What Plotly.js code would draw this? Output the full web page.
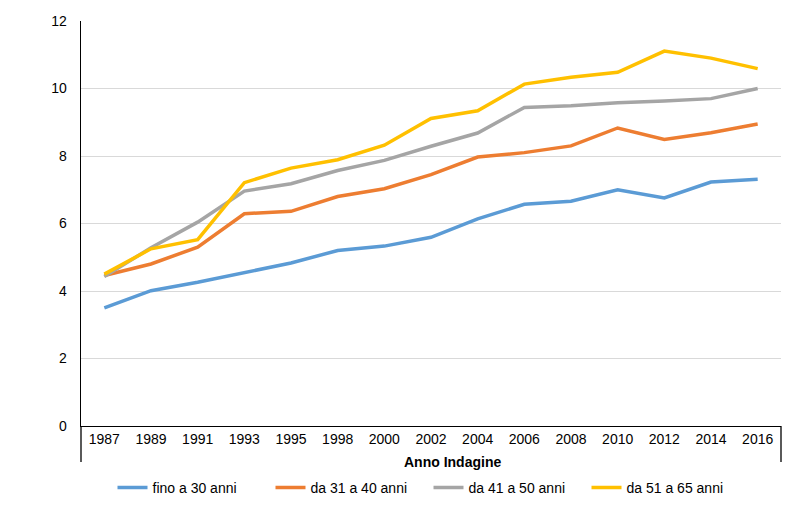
<!DOCTYPE html>
<html>
<head>
<meta charset="utf-8">
<script src="https://cdn.plot.ly/plotly-3.0.1.min.js"></script>
<style>html,body{margin:0;padding:0;background:#fff;}#chart{width:804px;height:505px;}</style>
</head>
<body>
<div id="chart"></div>
<script>
const years = ["1987","1989","1991","1993","1995","1998","2000","2002","2004","2006","2008","2010","2012","2014","2016"];
const fino30 = [3.50,4.01,4.26,4.55,4.83,5.20,5.33,5.59,6.14,6.57,6.66,7.00,6.76,7.23,7.31];
const da31a40 = [4.46,4.80,5.30,6.29,6.36,6.80,7.03,7.45,7.97,8.10,8.30,8.83,8.49,8.69,8.95];
const da41a50 = [4.43,5.28,6.04,6.96,7.18,7.57,7.87,8.29,8.68,9.44,9.49,9.58,9.63,9.70,10.00];
const da51a65 = [4.50,5.25,5.52,7.21,7.64,7.89,8.32,9.11,9.34,10.13,10.33,10.48,11.11,10.90,10.59];
const seriesNames = ["fino a 30 anni","da 31 a 40 anni","da 41 a 50 anni","da 51 a 65 anni"];
const colors = ["#5B9BD5","#ED7D31","#A5A5A5","#FFC000"];
const yTicks = [0,2,4,6,8,10,12];
const xTitle = "Anno Indagine";

const data = [fino30, da31a40, da41a50, da51a65].map((vals, i) => ({
  type: "scatter",
  mode: "lines",
  x: years,
  y: vals,
  name: seriesNames[i],
  line: {color: colors[i], width: 3.5}
}));

const font = "Liberation Sans, Arial, sans-serif";
const layout = {
  width: 804, height: 505,
  margin: {l: 81, r: 23, t: 21, b: 79},
  paper_bgcolor: "#fff", plot_bgcolor: "#fff",
  font: {family: font, size: 14, color: "#000"},
  showlegend: true,
  legend: {orientation: "h", x: 0.045, xanchor: "left", xref: "paper",
           y: 0.034, yanchor: "middle", yref: "container",
           entrywidth: 113, entrywidthmode: "pixels",
           font: {family: font, size: 14, color: "#000"}, traceorder: "normal"},
  xaxis: {
    type: "category",
    range: [-0.5, 14.5],
    showgrid: false,
    showline: true, linecolor: "#000", linewidth: 1.3,
    ticks: "", ticklen: 0,
    tickfont: {family: font, size: 14, color: "#000"},
    automargin: false,
    fixedrange: true
  },
  yaxis: {
    range: [0, 12],
    tickvals: yTicks,
    ticktext: yTicks.map(String),
    showgrid: true, gridcolor: "#D9D9D9", gridwidth: 1,
    zeroline: false,
    showline: true, linecolor: "#000", linewidth: 1.3,
    ticks: "", ticklabelstandoff: 10,
    tickfont: {family: font, size: 14, color: "#000"},
    automargin: false,
    fixedrange: true
  },
  annotations: [
    {text: "<b>" + xTitle + "</b>", xref: "paper", yref: "paper", x: 0.531, y: -0.089,
     xanchor: "center", yanchor: "middle", showarrow: false,
     font: {family: font, size: 14, color: "#000"}}
  ],
  shapes: [
    {type: "line", xref: "paper", yref: "paper", x0: 0, x1: 0, y0: 0, y1: -0.089, line: {color: "#000", width: 1.3}},
    {type: "line", xref: "paper", yref: "paper", x0: 1, x1: 1, y0: 0, y1: -0.089, line: {color: "#000", width: 1.3}}
  ]
};

Plotly.newPlot("chart", data, layout, {displayModeBar: false, staticPlot: true});
</script>
</body>
</html>
